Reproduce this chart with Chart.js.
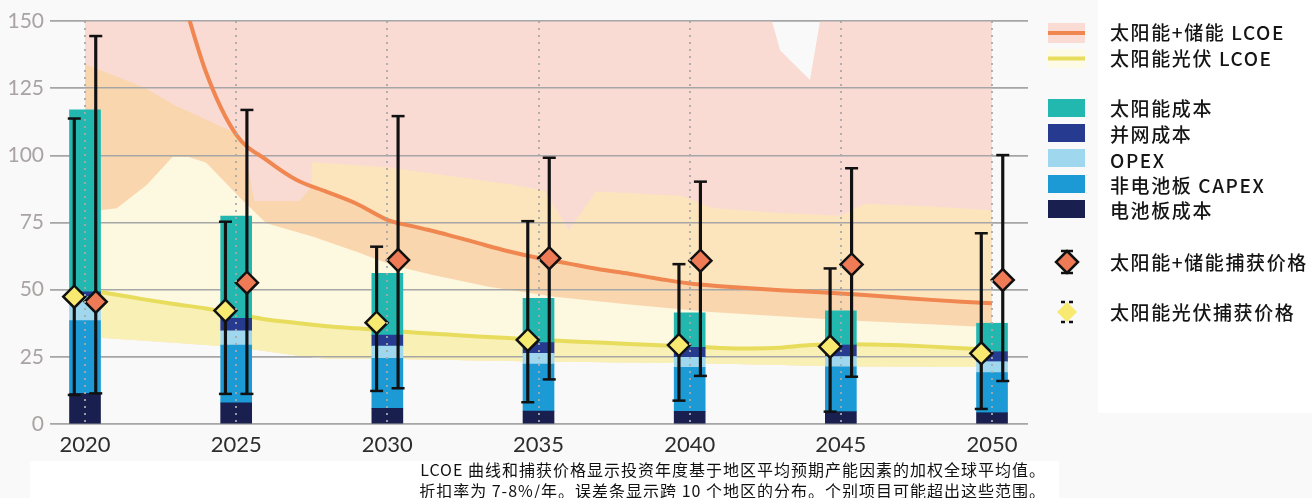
<!DOCTYPE html>
<html>
<head>
<meta charset="utf-8">
<script src="https://cdn.jsdelivr.net/npm/chart.js@4.4.1/dist/chart.umd.min.js"></script>
<style>
  html, body { margin: 0; padding: 0; background: #f9f9f9; width: 1312px; height: 498px; overflow: hidden; }
  #wrap { position: relative; width: 1312px; height: 498px; }
  #c { position: absolute; left: 0; top: 0; }
  #legendBox { position: absolute; left: 1098px; top: 0; width: 214px; height: 413px; background: #ffffff; }
  .lg-text { position: absolute; left: 1110px; font-family: "Noto Sans CJK SC", "Noto Sans", sans-serif; font-size: 19px; font-weight: 500;
             letter-spacing: 1.6px; color: #151515; line-height: 22px; white-space: nowrap; transform: translateY(-50%); }
  .lg-icon { position: absolute; }
  #captionBox { position: absolute; left: 30px; top: 461px; width: 1029px; height: 37px; background: #ffffff; }
  .cap { position: absolute; right: 266px; font-family: "Noto Sans CJK SC", sans-serif; font-size: 16px; letter-spacing: 1.0px;
         color: #111; white-space: nowrap; line-height: 20px; transform: translateY(-50%); }
</style>
</head>
<body>
<div id="wrap">
  <canvas id="c" width="1060" height="460"></canvas>
  <div id="legendBox"></div>
  <div id="captionBox"></div>
  <div id="legend"></div>
  <div class="cap" style="top:469px">LCOE 曲线和捕获价格显示投资年度基于地区平均预期产能因素的加权全球平均值。</div>
  <div class="cap" style="top:490px">折扣率为 7-8%/年。误差条显示跨 10 个地区的分布。个别项目可能超出这些范围。</div>
</div>
<script>
// ---- cost stack per investment year (USD/MWh) ----
const years = [2020, 2025, 2030, 2035, 2040, 2045, 2050];
const tickYears = [2020, 2025, 2030, 2035, 2040, 2045, 2050];
const yTicks = [0, 25, 50, 75, 100, 125, 150];

const panelCost     = [11.4, 7.9, 5.8, 4.8, 4.7, 4.6, 4.2];
const nonPanelCapex = [27.1, 21.5, 18.6, 17.5, 16.4, 16.7, 14.9];
const opexCost      = [8.9, 5.3, 4.6, 4.0, 3.7, 3.8, 4.1];
const gridCost      = [1.8, 4.6, 4.1, 4.0, 3.7, 4.3, 3.7];
const solarCost     = [67.7, 38.1, 23.0, 16.5, 12.9, 12.7, 10.6];

// ---- capture prices with regional spread ----
const storageCapture     = [45.5, 52.6, 61.0, 61.7, 60.8, 59.4, 53.6];
const storageCaptureLow  = [11.4, 11.2, 13.3, 16.6, 17.9, 17.6, 16.0];
const storageCaptureHigh = [144.4, 116.9, 114.6, 99.1, 90.2, 95.2, 100.1];
const pvCapture          = [47.4, 42.2, 37.7, 31.3, 29.4, 28.8, 26.3];
const pvCaptureLow       = [10.8, 11.2, 12.3, 8.1, 8.7, 4.6, 5.6];
const pvCaptureHigh      = [113.7, 75.3, 66.0, 75.5, 59.5, 57.9, 71.0];

// ---- LCOE curves, yearly ----
const lcoeYears = [2020, 2021, 2022, 2023, 2024, 2025, 2026, 2027, 2028, 2029, 2030, 2031, 2032, 2033, 2034, 2035,
                   2036, 2037, 2038, 2039, 2040, 2041, 2042, 2043, 2044, 2045, 2046, 2047, 2048, 2049, 2050];
const storageLcoe = [null, null, null, 168, 131, 107.7, 98.3, 90.8, 86.4, 81.9, 76.0, 73.2, 70.4, 67.3, 64.3, 61.8,
                     59.7, 57.6, 55.9, 54.0, 52.3, 51.3, 50.5, 49.8, 49.2, 48.6, 47.8, 47.0, 46.2, 45.5, 44.9];
const pvLcoe = [50.0, 48.2, 46.3, 44.6, 43.0, 41.0, 38.9, 37.6, 36.4, 35.6, 34.8, 34.0, 33.3, 32.6, 32.0, 31.3,
                30.8, 30.3, 29.8, 29.3, 28.8, 28.3, 28.1, 28.4, 29.4, 29.7, 29.6, 29.3, 28.8, 28.2, 27.6];

// ---- LCOE ranges across regions ----
const storageMaxYears = [2020, 2042.72, 2042.99, 2043.98, 2044.31, 2050];
const storageMax      = [150, 150, 139.1, 128, 150, 150];
const storageUpperYears = [2027.5, 2030, 2032, 2034, 2035, 2035.2, 2036.0, 2036.9, 2038, 2039.7, 2040.8, 2043, 2045, 2045.8, 2048, 2050];
const storageUpper      = [97.5, 95.6, 92.5, 89.3, 87.3, 87.0, 72.2, 86.5, 86.0, 85.0, 80.3, 78.5, 77.5, 82.0, 81.0, 79.6];
const storageMidYears = [2020, 2021, 2022, 2023, 2024, 2024.9, 2025.2, 2025.6, 2027.1, 2027.5];
const storageMid      = [134, 129.5, 125, 118.5, 113.3, 108.7, 106, 83, 83, 88.6];
const pvUpperYears = [2020, 2020.5, 2021.05, 2022.04, 2022.9, 2023.4, 2024.0, 2025.2, 2026.0, 2027.55, 2029, 2030.2,
                      2031.5, 2033.4, 2035.6, 2038, 2040.7, 2045, 2050];
const pvUpper      = [79.6, 79.6, 80.3, 89, 99.5, 99.5, 97.3, 83.4, 74.7, 69.7, 64, 59, 55.5, 51, 47.3, 44.5, 41.7, 38.7, 36];
const pvLowerYears = [2020, 2022, 2025, 2027, 2028, 2030, 2035, 2040, 2045, 2050];
const pvLower      = [32.5, 31, 28.7, 25.5, 24.3, 24.3, 23.3, 22.7, 21.5, 21.2];

// ---- styling ----
const C = {
  solar: '#22b8b0', grid: '#263b8f', opex: '#9fd7ef', capex: '#1c9ad6', panel: '#19204f',
  storageLine: '#f08650', pvLine: '#e8dc5c',
  pink: '#f9dbd4', lightPeach: '#fce4bd', darkPeach: '#f9d6ae', paleYellow: '#fdf8e0', yellowBand: '#f8f0b4',
  storageDiamond: '#ee7b55', pvDiamond: '#f8ea70', ink: '#111111'
};
const markerShift = 0.355;   // capture-price markers sit either side of each bar (in years)

const pts = (xs, ys) => xs.map((x, i) => ({ x, y: ys[i] })).filter(p => p.y !== null);
const lcoeStorageTail = lcoeYears.map((x, i) => ({ x, y: storageLcoe[i] })).filter(p => p.x >= 2028);

const datasets = [];
const add = d => { datasets.push(d); return datasets.length - 1; };

// markers (top-most)
add({ type: 'line', label: '太阳能+储能捕获价格', data: years.map((y, i) => ({ x: y + markerShift, y: storageCapture[i] })),
      showLine: false, pointStyle: 'rectRot', pointRadius: 11, pointBackgroundColor: C.storageDiamond,
      pointBorderColor: C.ink, pointBorderWidth: 2.5, yAxisID: 'yv', order: 0 });
add({ type: 'line', label: '太阳能光伏捕获价格', data: years.map((y, i) => ({ x: y - markerShift, y: pvCapture[i] })),
      showLine: false, pointStyle: 'rectRot', pointRadius: 11, pointBackgroundColor: C.pvDiamond,
      pointBorderColor: C.ink, pointBorderWidth: 2.5, yAxisID: 'yv', order: 0 });
// error bar caps
add({ type: 'line', label: 'caps', showLine: false, pointStyle: 'line', pointRadius: 6.5, pointBorderWidth: 2.5,
      pointBorderColor: C.ink, yAxisID: 'yv', order: 1,
      data: years.flatMap((y, i) => [{ x: y + markerShift, y: storageCaptureLow[i] }, { x: y + markerShift, y: storageCaptureHigh[i] },
                                      { x: y - markerShift, y: pvCaptureLow[i] }, { x: y - markerShift, y: pvCaptureHigh[i] }]) });
// error bar stems
add({ type: 'bar', label: 'stems-storage', data: years.map((y, i) => ({ x: y + markerShift, y: [storageCaptureLow[i], storageCaptureHigh[i]] })),
      backgroundColor: C.ink, barThickness: 2.5, grouped: false, borderWidth: 0, yAxisID: 'yv', order: 2 });
add({ type: 'bar', label: 'stems-pv', data: years.map((y, i) => ({ x: y - markerShift, y: [pvCaptureLow[i], pvCaptureHigh[i]] })),
      backgroundColor: C.ink, barThickness: 2.5, grouped: false, borderWidth: 0, yAxisID: 'yv', order: 2 });
// stacked cost bars (first listed sits at the bottom)
[['电池板成本', panelCost, C.panel], ['非电池板 CAPEX', nonPanelCapex, C.capex], ['OPEX', opexCost, C.opex],
 ['并网成本', gridCost, C.grid], ['太阳能成本', solarCost, C.solar]].forEach(([label, arr, color]) => {
  add({ type: 'bar', label, data: years.map((y, i) => ({ x: y, y: arr[i] })), backgroundColor: color,
        barThickness: 31, grouped: false, borderWidth: 0, yAxisID: 'y', order: 3 });
});
// LCOE curves
add({ type: 'line', label: '太阳能+储能 LCOE', data: pts(lcoeYears, storageLcoe), borderColor: C.storageLine, borderWidth: 4,
      pointRadius: 0, cubicInterpolationMode: 'monotone', fill: false, yAxisID: 'yv', order: 4 });
add({ type: 'line', label: '太阳能光伏 LCOE', data: pts(lcoeYears, pvLcoe), borderColor: C.pvLine, borderWidth: 4,
      pointRadius: 0, cubicInterpolationMode: 'monotone', fill: false, yAxisID: 'yv', order: 4 });
// range bands, painted back to front down to the PV lower bound
const floorIndex = datasets.length + 5;
const band = (label, data, color, order, extra) => add(Object.assign({ type: 'line', label, data, borderWidth: 0, pointRadius: 0,
      tension: 0, backgroundColor: color, fill: floorIndex, yAxisID: 'yv', order }, extra || {}));
band('pv-band', pts(lcoeYears, pvLcoe), C.yellowBand, 5, { cubicInterpolationMode: 'monotone', redrawGridAfter: true });
band('pv-upper', pts(pvUpperYears, pvUpper), C.paleYellow, 6);
band('storage-mid', pts(storageMidYears, storageMid).concat(lcoeStorageTail), C.darkPeach, 7);
band('storage-upper', pts(storageUpperYears, storageUpper), C.lightPeach, 8);
band('storage-max', pts(storageMaxYears, storageMax), C.pink, 9);
add({ type: 'line', label: 'pv-lower', data: pts(pvLowerYears, pvLower), borderWidth: 0, pointRadius: 0, tension: 0,
      fill: false, yAxisID: 'yv', order: 10 });

// horizontal grid redrawn above the range bands, below bars and curves
const gridOverBands = {
  id: 'gridOverBands',
  afterDatasetDraw(chart, args) {
    if (chart.data.datasets[args.index].redrawGridAfter) {
      chart.scales.y.drawGrid(chart.chartArea);
    }
  }
};

new Chart(document.getElementById('c'), {
  type: 'bar',
  data: { datasets },
  plugins: [gridOverBands],
  options: {
    responsive: false,
    animation: false,
    events: [],
    devicePixelRatio: 1,
    layout: { padding: { left: 0, right: 32, top: 21, bottom: 0 } },
    plugins: { legend: { display: false }, tooltip: { enabled: false } },
    scales: {
      x: {
        type: 'linear', min: 2018.842, max: 2051.19, offset: false,
        afterBuildTicks: s => { s.ticks = tickYears.map(v => ({ value: v })); },
        afterFit: s => { s.height = 36; },
        ticks: { callback: v => String(v), font: { family: 'Lato', size: 22 }, color: '#2d2d2d', padding: 8,
                 maxRotation: 0, autoSkip: false },
        grid: { display: true, offset: false, drawTicks: false, color: 'rgba(168,168,168,0.9)', lineWidth: 2, z: 1 },
        border: { display: false, dash: [2, 5] }
      },
      y: {
        stacked: true, min: 0, max: 150,
        afterBuildTicks: s => { s.ticks = yTicks.map(v => ({ value: v })); },
        afterFit: s => { s.width = 50; },
        ticks: { font: { family: 'Lato', size: 21 }, color: '#a9a3a3', padding: 6 },
        grid: { color: '#a6a6a6', lineWidth: 1.5, drawTicks: false },
        border: { display: false }
      },
      yv: { display: false, min: 0, max: 150, stacked: false }
    }
  }
});

// ---- legend ----
const legend = document.getElementById('legend');
const svgNS = 'http://www.w3.org/2000/svg';
function icon(left, top, w, h, draw) {
  const s = document.createElementNS(svgNS, 'svg');
  s.setAttribute('width', w); s.setAttribute('height', h);
  s.setAttribute('class', 'lg-icon');
  s.style.left = left + 'px'; s.style.top = top + 'px';
  s.innerHTML = draw;
  legend.appendChild(s);
}
function text(label, cy) {
  const d = document.createElement('div');
  d.className = 'lg-text'; d.style.top = cy + 'px'; d.textContent = label;
  legend.appendChild(d);
}
icon(1048, 23, 37, 20, `<rect width="37" height="20" fill="#fbdcd5"/><rect y="8" width="37" height="4" fill="${C.storageLine}"/>`);
text('太阳能+储能 LCOE', 32);
icon(1048, 49, 37, 19, `<rect width="37" height="19" fill="#fdfbe6"/><rect y="7.5" width="37" height="4" fill="${C.pvLine}"/>`);
text('太阳能光伏 LCOE', 58);
[['太阳能成本', C.solar, 99, 108], ['并网成本', C.grid, 124, 134], ['OPEX', C.opex, 149, 160],
 ['非电池板 CAPEX', C.capex, 175, 185], ['电池板成本', C.panel, 200, 210]].forEach(([label, color, top, cy]) => {
  icon(1048, top, 37, 18, `<rect width="37" height="18" fill="${color}"/>`);
  text(label, cy);
});
icon(1054, 249, 26, 26, `<path d="M13 2 L24 13 L13 24 L2 13 Z" fill="${C.storageDiamond}" stroke="${C.ink}" stroke-width="2.5"/>
  <path d="M7 2 H19 M7 24 H19" stroke="${C.ink}" stroke-width="2.5"/>`);
text('太阳能+储能捕获价格', 262);
icon(1054, 299, 26, 26, `<path d="M13 3 L23 13 L13 23 L3 13 Z" fill="${C.pvDiamond}"/>
  <path d="M7 3 H11 M15 3 H19 M7 23 H11 M15 23 H19" stroke="${C.ink}" stroke-width="2.5"/>`);
text('太阳能光伏捕获价格', 312);
</script>
</body>
</html>
